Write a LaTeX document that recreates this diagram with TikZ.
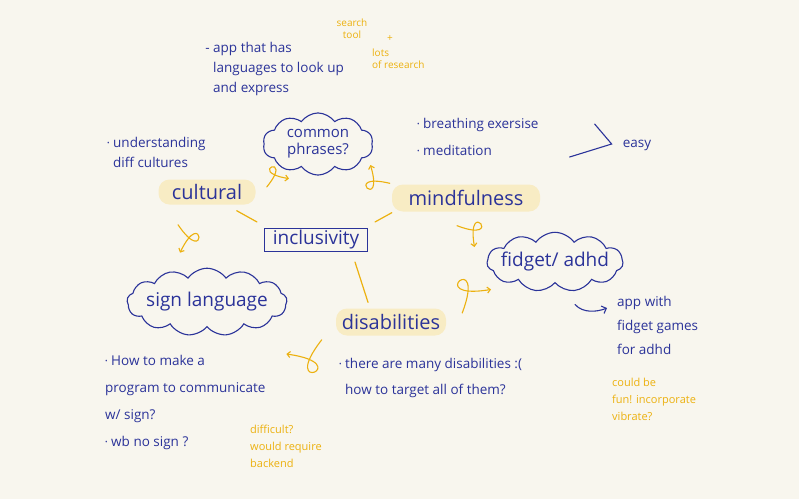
\documentclass[tikz,border=0pt]{standalone}
\usepackage{fontspec}
\setmainfont{Open Sans}
\usetikzlibrary{arrows.meta,positioning,shapes.symbols,calc}
\definecolor{ink}{HTML}{2B3399}
\definecolor{marker}{HTML}{ECB10F}
\definecolor{glow}{HTML}{F8ECC4}
\definecolor{paper}{HTML}{F8F6EE}
\newcommand{\dotmark}{\raisebox{0.25ex}{\scalebox{0.5}{\textbullet}}}

\begin{document}
\begin{tikzpicture}[x=1pt,y=-1pt,
    note/.style={text=ink,font=\fontsize{13.5}{26}\selectfont,align=left,anchor=north west,inner sep=0pt},
    memo/.style={text=marker,font=\fontsize{11}{17}\selectfont,align=left,anchor=north west,inner sep=0pt},
    topic/.style={rounded corners=11pt,fill=glow,text=ink,font=\fontsize{20}{20}\selectfont,inner sep=2pt},
    bubble/.style={cloud,cloud puffs=11,cloud puff arc=110,draw=ink,line width=1.1pt,text=ink,
                   font=\fontsize{19}{20}\selectfont,align=center,inner sep=0pt},
    link/.style={marker,line width=1.2pt,line cap=round},
    curl/.style={marker,line width=1.1pt,line cap=round,-{Straight Barb[length=3pt]},
                 to path={.. controls ($(\tikztostart)!1.9!#1:(\tikztotarget)$)
                          and ($(\tikztotarget)!1.9!-#1:(\tikztostart)$) .. (\tikztotarget)}},
    curl/.default=30,
    pen/.style={ink,line width=1.1pt,line cap=round}]

  \fill[paper] (0,0) rectangle (799,499);
  \useasboundingbox (0,0) rectangle (799,499);

  % centre and topics
  \node[draw=ink,line width=1.1pt,text=ink,font=\fontsize{19}{20}\selectfont,
        minimum width=103pt,minimum height=23pt,inner sep=2pt] (incl) at (316,240) {inclusivity};
  \node[topic,minimum width=97pt,minimum height=25pt] (cultural) at (207,192) {cultural};
  \node[topic,minimum width=148pt,minimum height=27pt] (mind) at (466,198) {mindfulness};
  \node[topic,minimum width=110pt,minimum height=27pt] (dis) at (391,322) {disabilities};

  \draw[link] ([xshift=-19pt,yshift=-6pt]cultural.south east) -- ([xshift=-7pt,yshift=6pt]incl.north west);
  \draw[link] ([xshift=7pt,yshift=6pt]incl.north east) -- ([yshift=-1pt]mind.south west);
  \draw[link] ([xshift=39pt,yshift=-10pt]incl.south) -- ([xshift=-23pt,yshift=6pt]dis.north);

  % clouds
  \node[bubble,cloud puffs=10,aspect=1.75,font=\fontsize{15}{17}\selectfont,minimum width=110pt,minimum height=62pt] (phrases) at (318,144) {common\\phrases?};
  \node[bubble,cloud puffs=13,aspect=3.2,inner xsep=-5pt,minimum width=160pt,minimum height=64pt] (sign) at (207,302) {sign language};
  \node[bubble,aspect=3,inner xsep=-9pt,minimum width=136pt,minimum height=58pt] (fidget) at (555,262) {fidget/ adhd};

  \draw[curl] ([xshift=11pt,yshift=5pt]cultural.east) to ([xshift=-29pt,yshift=-3pt]phrases.south);
  \draw[curl] ([xshift=-2pt,yshift=1pt]mind.north west) to ([xshift=-2pt,yshift=-21pt]phrases.east);
  \draw[curl] ([xshift=-29pt,yshift=-20pt]cultural.south) to ([xshift=-27pt,yshift=15pt]sign.north);
  \draw[curl] ([xshift=-9pt,yshift=-14pt]mind.south) to ([xshift=-12pt,yshift=15pt]fidget.west);
  \draw[curl] ([xshift=16pt,yshift=9pt]dis.east) to ([xshift=-64pt,yshift=-6pt]fidget.south);
  \draw[curl] ([xshift=-14pt,yshift=-4pt]dis.south west) to ([xshift=-1pt,yshift=-52pt]sign.east);

  % notes
  \node[note,font=\fontsize{13.5}{20}\selectfont] (appnote) at (213,42) {\llap{- }app that has\\languages to look up\\and express};
  \node[memo,align=center,anchor=north,font=\fontsize{10}{12}\selectfont] (search) at (352,19) {search\\tool};
  \node[memo,font=\fontsize{10}{12}\selectfont] (plus) at (387,35) {+};
  \node[memo,font=\fontsize{10}{12}\selectfont] (lots) at (372,49) {lots\\of research};

  \node[note,font=\fontsize{13.5}{20}\selectfont] (cultnote) at (113,137) {\llap{\dotmark\ }understanding\\diff cultures};
  \node[note,font=\fontsize{13.5}{27}\selectfont] (mindnote) at (423,118) {\llap{\dotmark\ }breathing exersise\\\llap{\dotmark\ }meditation};
  \node[note,anchor=center] (easy) at (637,145) {easy};
  \draw[pen] ([xshift=-28pt,yshift=21pt]easy.west) -- ([xshift=-11pt,yshift=1pt]easy.west)
             -- ([xshift=-53pt,yshift=-12pt]easy.west);

  \node[note,font=\fontsize{13.5}{24}\selectfont] (fidnote) at (617,296) {app with\\fidget games\\for adhd};
  \draw[pen,-{Straight Barb[length=4pt]}] ([xshift=20pt,yshift=-21pt]fidget.south)
        .. controls +(8,9) and +(-10,4) .. ([xshift=-10pt,yshift=-12pt]fidnote.north west);
  \node[memo] (funnote) at (612,378) {could be\\fun! incorporate\\vibrate?};

  \node[note] (disnote) at (345,358) {\llap{\dotmark\ }there are many disabilities :(\\how to target all of them?};
  \node[note,font=\fontsize{13.5}{27}\selectfont] (signnote) at (105,355) {\dotmark\ How to make a\\program to communicate\\w/ sign?\\\dotmark\ wb no sign ?};
  \node[memo] (hardnote) at (250,425) {difficult?\\would require\\backend};
\end{tikzpicture}
\end{document}
